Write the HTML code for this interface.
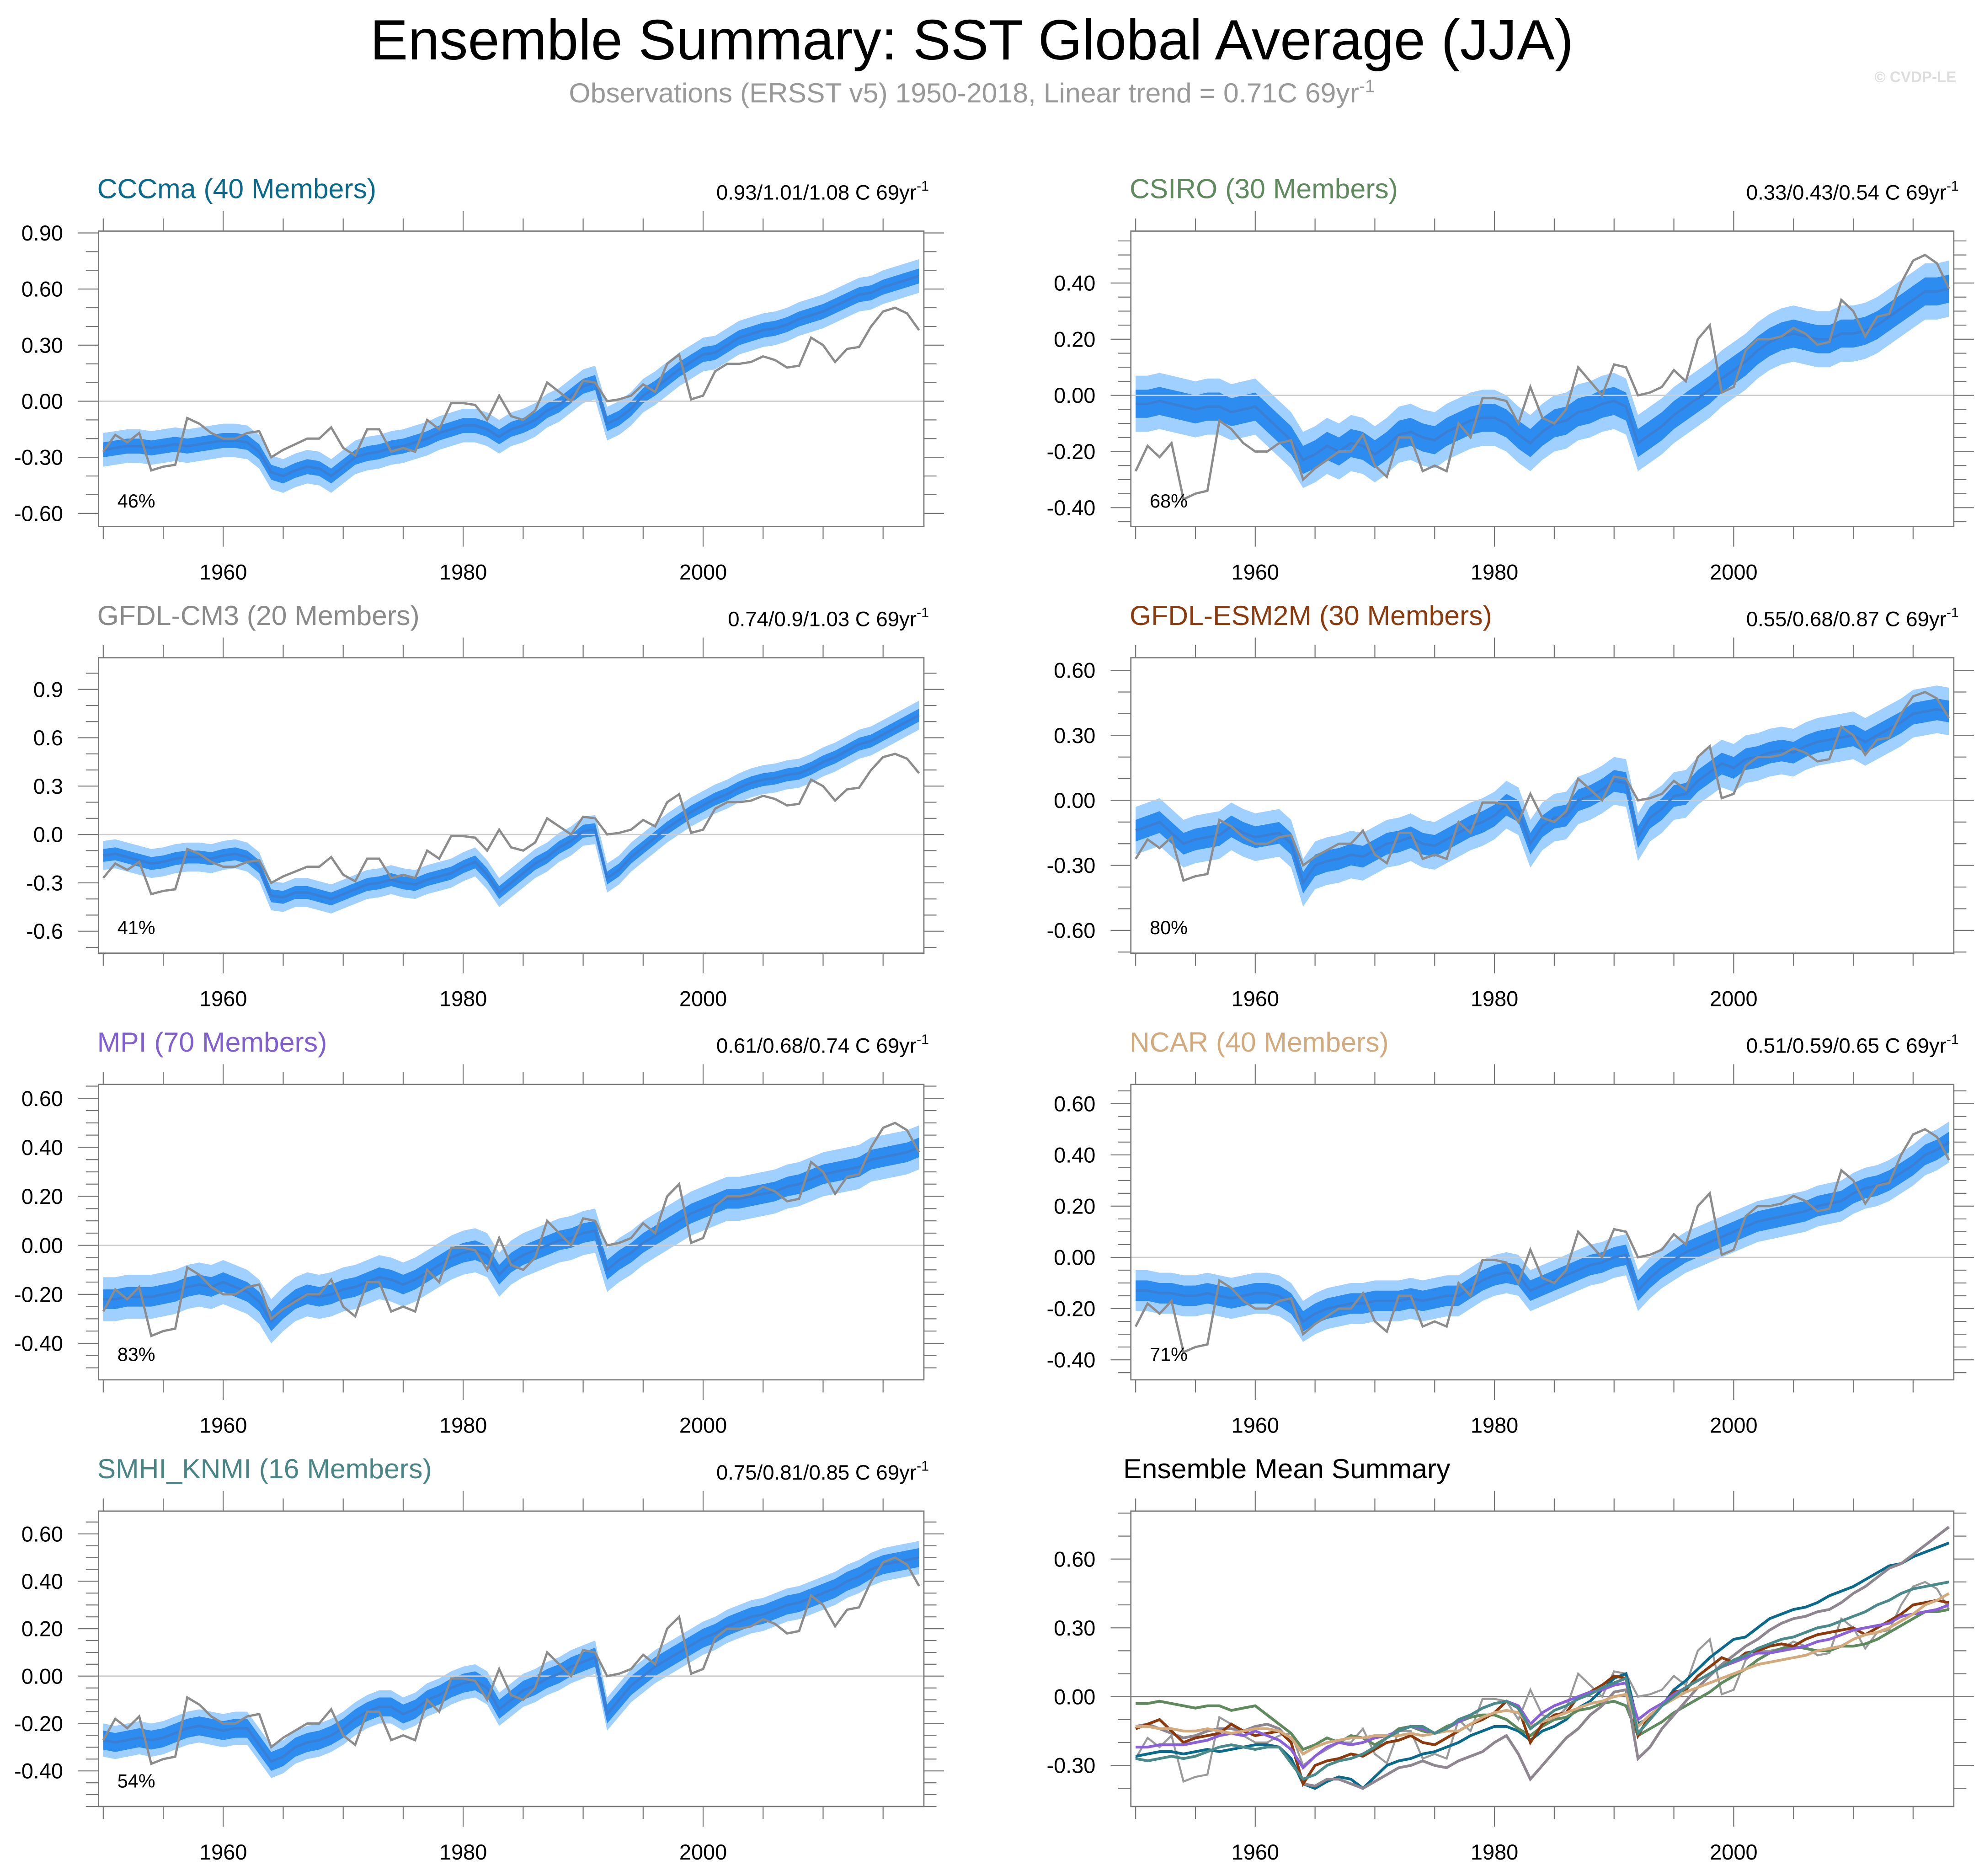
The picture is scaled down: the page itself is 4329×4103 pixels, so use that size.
<!DOCTYPE html>
<html><head><meta charset="utf-8">
<style>
html,body{margin:0;padding:0;background:#fff;}
svg{display:block;font-family:"Liberation Sans",sans-serif;}
</style></head>
<body>
<svg id="chart" width="4329" height="4103" viewBox="0 0 1568 1486" xmlns="http://www.w3.org/2000/svg">
<rect width="1568" height="1486" fill="#fff"/>
<text x="770" y="47" font-size="45" text-anchor="middle" fill="#000">Ensemble Summary: SST Global Average (JJA)</text>
<text x="770" y="81" font-size="22" text-anchor="middle" fill="#999">Observations (ERSST v5) 1950-2018, Linear trend = 0.71C 69yr<tspan dy="-8" font-size="14">-1</tspan></text>
<text x="1550" y="65" font-size="12" text-anchor="end" fill="#ddd" font-weight="bold">© CVDP-LE</text>
<g id="panels"></g>
</svg>
<script>
const years = Array.from({length:69},(_,i)=>1950+i);
const obs = [-0.27,-0.18,-0.22,-0.17,-0.37,-0.35,-0.34,-0.09,-0.12,-0.17,-0.20,-0.20,-0.17,-0.16,
 -0.30,-0.26,-0.23,-0.20,-0.20,-0.14,-0.25,-0.29,-0.15,-0.15,-0.27,-0.25,-0.27,-0.10,-0.15,-0.01,-0.01,-0.02,-0.10,
 0.03,-0.08,-0.10,-0.05,0.10,0.05,0.00,0.11,0.10,
 0.00,0.01,0.03,0.09,0.05,0.20,0.25,0.01,0.03,
 0.16,0.20,0.20,0.21,0.24,0.22,0.18,0.19,0.34,
 0.30,0.21,0.28,0.29,0.40,0.48,0.50,0.47,0.38];
const cccma = [-0.26,-0.25,-0.24,-0.24,-0.25,-0.24,-0.23,-0.24,-0.23,-0.22,-0.21,-0.21,-0.22,-0.27,
 -0.38,-0.40,-0.37,-0.35,-0.36,-0.40,-0.35,-0.30,-0.28,-0.27,-0.25,-0.24,-0.22,-0.20,-0.17,-0.15,-0.13,-0.13,-0.15,
 -0.19,-0.15,-0.13,-0.10,-0.05,-0.02,0.03,0.08,0.10,
 -0.12,-0.09,-0.04,0.03,0.07,0.12,0.17,0.21,0.25,
 0.26,0.30,0.34,0.36,0.38,0.39,0.41,0.44,0.46,
 0.48,0.51,0.54,0.57,0.58,0.61,0.63,0.65,0.67];
const csiro = [-0.03,-0.03,-0.02,-0.03,-0.04,-0.05,-0.04,-0.04,-0.06,-0.05,-0.04,-0.08,-0.12,-0.16,
 -0.23,-0.21,-0.18,-0.20,-0.17,-0.18,-0.21,-0.18,-0.14,-0.13,-0.15,-0.16,-0.13,-0.11,-0.09,-0.08,-0.08,-0.10,-0.14,
 -0.17,-0.13,-0.10,-0.09,-0.06,-0.05,-0.03,-0.02,-0.04,
 -0.17,-0.14,-0.11,-0.07,-0.04,-0.01,0.02,0.06,0.09,
 0.12,0.16,0.19,0.21,0.22,0.21,0.20,0.20,0.22,
 0.22,0.23,0.25,0.28,0.31,0.34,0.37,0.37,0.38];
const gfdlcm3 = [-0.13,-0.12,-0.14,-0.16,-0.18,-0.17,-0.15,-0.14,-0.14,-0.15,-0.13,-0.12,-0.14,-0.20,
 -0.38,-0.39,-0.36,-0.36,-0.38,-0.40,-0.37,-0.34,-0.31,-0.30,-0.28,-0.30,-0.31,-0.28,-0.26,-0.24,-0.20,-0.17,-0.25,
 -0.36,-0.30,-0.24,-0.18,-0.14,-0.08,-0.04,0.02,0.03,
 -0.27,-0.22,-0.14,-0.08,-0.02,0.04,0.09,0.14,0.18,
 0.22,0.25,0.29,0.32,0.34,0.35,0.37,0.38,0.41,
 0.45,0.48,0.52,0.56,0.58,0.62,0.66,0.70,0.74];
const gfdlesm = [-0.14,-0.12,-0.10,-0.15,-0.20,-0.18,-0.17,-0.16,-0.12,-0.15,-0.17,-0.16,-0.15,-0.20,
 -0.38,-0.30,-0.28,-0.27,-0.25,-0.26,-0.23,-0.20,-0.19,-0.17,-0.20,-0.21,-0.18,-0.15,-0.12,-0.10,-0.07,-0.02,-0.05,
 -0.20,-0.12,-0.08,-0.07,0.00,0.02,0.05,0.09,0.08,
 -0.17,-0.08,-0.04,0.02,0.03,0.09,0.13,0.17,0.15,
 0.19,0.20,0.22,0.23,0.22,0.25,0.27,0.28,0.29,
 0.30,0.27,0.30,0.33,0.36,0.40,0.41,0.42,0.41];
const mpi = [-0.22,-0.22,-0.21,-0.21,-0.21,-0.20,-0.19,-0.17,-0.16,-0.17,-0.15,-0.17,-0.19,-0.23,
 -0.31,-0.26,-0.22,-0.20,-0.21,-0.20,-0.18,-0.17,-0.15,-0.13,-0.14,-0.16,-0.14,-0.11,-0.08,-0.05,-0.03,-0.02,-0.04,
 -0.12,-0.07,-0.04,-0.02,0.00,0.02,0.03,0.05,0.06,
 -0.10,-0.06,-0.03,0.01,0.04,0.07,0.10,0.13,0.15,
 0.17,0.19,0.19,0.20,0.21,0.22,0.24,0.25,0.27,
 0.29,0.30,0.31,0.32,0.35,0.36,0.37,0.38,0.40];
const ncar = [-0.13,-0.13,-0.14,-0.14,-0.15,-0.15,-0.14,-0.15,-0.16,-0.15,-0.14,-0.14,-0.15,-0.18,
 -0.25,-0.22,-0.20,-0.19,-0.18,-0.18,-0.17,-0.17,-0.17,-0.16,-0.17,-0.16,-0.15,-0.15,-0.12,-0.09,-0.07,-0.06,-0.07,
 -0.13,-0.11,-0.09,-0.07,-0.05,-0.03,-0.02,0.00,0.01,
 -0.13,-0.08,-0.04,-0.01,0.02,0.04,0.06,0.08,0.10,
 0.12,0.14,0.15,0.16,0.17,0.18,0.20,0.21,0.22,
 0.25,0.27,0.28,0.30,0.33,0.36,0.40,0.42,0.45];
const smhi = [-0.27,-0.28,-0.27,-0.26,-0.27,-0.26,-0.24,-0.22,-0.21,-0.22,-0.23,-0.22,-0.22,-0.29,
 -0.36,-0.34,-0.30,-0.28,-0.27,-0.25,-0.22,-0.18,-0.15,-0.13,-0.13,-0.16,-0.14,-0.10,-0.08,-0.05,-0.03,-0.02,-0.05,
 -0.14,-0.10,-0.06,-0.04,-0.01,0.01,0.04,0.06,0.08,
 -0.16,-0.10,-0.04,0.00,0.04,0.07,0.10,0.13,0.16,
 0.18,0.21,0.23,0.25,0.26,0.28,0.30,0.31,0.33,
 0.35,0.37,0.40,0.42,0.45,0.47,0.48,0.49,0.50];
const innerSpread = [0.04,0.05,0.04,0.05,0.04,0.04,0.04];
const outerSpread = [0.09,0.10,0.09,0.11,0.09,0.08,0.07];
const xTicks = [1960,1980,2000];

const NS="http://www.w3.org/2000/svg";
const root=document.getElementById('panels');
function mk(tag,attrs,parent){const e=document.createElementNS(NS,tag);for(const k in attrs)e.setAttribute(k,attrs[k]);(parent||root).appendChild(e);return e;}

const panels=[
 {name:'cccma',title:'CCCma (40 Members)',color:'#0b6a8c',trend:'0.93/1.01/1.08 C 69yr',pct:'46%',data:cccma,col:0,row:0,ymin:-0.67,ymax:0.91,ticks:[-0.6,-0.3,0,0.3,0.6,0.9],dec:2,minor:0.1},
 {name:'csiro',title:'CSIRO (30 Members)',color:'#5e8a5e',trend:'0.33/0.43/0.54 C 69yr',pct:'68%',data:csiro,col:1,row:0,ymin:-0.467,ymax:0.585,ticks:[-0.4,-0.2,0,0.2,0.4],dec:2,minor:0.05},
 {name:'gfdl-cm3',title:'GFDL-CM3 (20 Members)',color:'#8a8a8a',trend:'0.74/0.9/1.03 C 69yr',pct:'41%',data:gfdlcm3,col:0,row:1,ymin:-0.736,ymax:1.096,ticks:[-0.6,-0.3,0,0.3,0.6,0.9],dec:1,minor:0.1},
 {name:'gfdl-esm2m',title:'GFDL-ESM2M (30 Members)',color:'#8b3a0e',trend:'0.55/0.68/0.87 C 69yr',pct:'80%',data:gfdlesm,col:1,row:1,ymin:-0.705,ymax:0.658,ticks:[-0.6,-0.3,0,0.3,0.6],dec:2,minor:0.1},
 {name:'mpi',title:'MPI (70 Members)',color:'#8060d0',trend:'0.61/0.68/0.74 C 69yr',pct:'83%',data:mpi,col:0,row:2,ymin:-0.549,ymax:0.657,ticks:[-0.4,-0.2,0,0.2,0.4,0.6],dec:2,minor:0.05},
 {name:'ncar',title:'NCAR (40 Members)',color:'#d2aa7d',trend:'0.51/0.59/0.65 C 69yr',pct:'71%',data:ncar,col:1,row:2,ymin:-0.478,ymax:0.675,ticks:[-0.4,-0.2,0,0.2,0.4,0.6],dec:2,minor:0.05},
 {name:'smhi-knmi',title:'SMHI_KNMI (16 Members)',color:'#4a8585',trend:'0.75/0.81/0.85 C 69yr',pct:'54%',data:smhi,col:0,row:3,ymin:-0.55,ymax:0.696,ticks:[-0.4,-0.2,0,0.2,0.4,0.6],dec:2,minor:0.05}
];
const summaryColors=['#0b6a8c','#5e8a5e','#8f878f','#8b3a0e','#8a60d8','#d2aa7d','#4a8a8a'];

function frame(p){
 const x0=p.col?896:78, x1=p.col?1548:732, y0=[183,521,859,1197][p.row], y1=y0+234;
 const xs=y=>x0+(y-1949.6)/(2018.4-1949.6)*(x1-x0);
 const ys=v=>y1-(v-p.ymin)/(p.ymax-p.ymin)*(y1-y0);
 return {x0,x1,y0,y1,xs,ys};
}
function axes(g,p,f,zeroColor){
 mk('line',{x1:f.x0,x2:f.x1,y1:f.ys(0),y2:f.ys(0),stroke:zeroColor,'stroke-width':1},g);
 mk('rect',{x:f.x0,y:f.y0,width:f.x1-f.x0,height:f.y1-f.y0,fill:'none',stroke:'#777','stroke-width':1},g);
 for(let yr=1950;yr<=2015;yr+=5){
  const maj=xTicks.includes(yr), L=maj?16:10, x=f.xs(yr);
  mk('line',{x1:x,x2:x,y1:f.y1,y2:f.y1+L,stroke:'#777','stroke-width':0.8},g);
  mk('line',{x1:x,x2:x,y1:f.y0,y2:f.y0-L,stroke:'#777','stroke-width':0.8},g);
 }
 xTicks.forEach(yr=>{const t=mk('text',{x:f.xs(yr),y:f.y1+42,'font-size':17,'text-anchor':'middle'},g);t.textContent=yr;});
 const lo=Math.ceil(p.ymin/p.minor-1e-6),hi=Math.floor(p.ymax/p.minor+1e-6);
 for(let k=lo;k<=hi;k++){
  const v=k*p.minor, maj=p.ticks.some(t=>Math.abs(t-v)<1e-6), L=maj?16:10, y=f.ys(v);
  mk('line',{x1:f.x0-L,x2:f.x0,y1:y,y2:y,stroke:'#777','stroke-width':0.8},g);
  mk('line',{x1:f.x1,x2:f.x1+L,y1:y,y2:y,stroke:'#777','stroke-width':0.8},g);
 }
 p.ticks.forEach(v=>{const t=mk('text',{x:f.x0-28,y:f.ys(v)+6,'font-size':17,'text-anchor':'end'},g);t.textContent=v.toFixed(p.dec);});
}
function linePath(arr,f){return arr.map((v,i)=>(i?'L':'M')+f.xs(years[i]).toFixed(2)+','+f.ys(v).toFixed(2)).join('');}
function bandPath(arr,w,f){
 let d=arr.map((v,i)=>(i?'L':'M')+f.xs(years[i]).toFixed(2)+','+f.ys(v+w).toFixed(2)).join('');
 for(let i=arr.length-1;i>=0;i--)d+='L'+f.xs(years[i]).toFixed(2)+','+f.ys(arr[i]-w).toFixed(2);
 return d+'Z';
}
panels.forEach((p,pi)=>{
 const f=frame(p);
 const g=mk('g',{});
 
 
 const o=mk('path',{d:bandPath(p.data,outerSpread[pi],f),fill:'#9fd0ff'},g);
 
 const inn=mk('path',{d:bandPath(p.data,innerSpread[pi],f),fill:'#2c8cf0'},g);
 
 axes(g,p,f,'#ccc');
 const m=mk('path',{d:linePath(p.data,f),fill:'none',stroke:'#3b7fd4','stroke-width':2},g);
 
 const ob=mk('path',{d:linePath(obs,f),fill:'none',stroke:'#8c8c8c','stroke-width':1.8},g);
 
 const t=mk('text',{x:f.x0-1,y:f.y0-26,'font-size':22,fill:p.color},g);
 t.textContent=p.title;
 const tr=mk('text',{x:f.x1+4,y:f.y0-25,'font-size':16.5,'text-anchor':'end'},g);
 
 tr.textContent=p.trend;
 const sup=mk('tspan',{dy:-7,'font-size':11},tr);sup.textContent='-1';
 const pc=mk('text',{x:f.x0+15,y:f.y1-15,'font-size':15},g);
 pc.textContent=p.pct;
});
// summary panel
(function(){
 const p={col:1,row:3,ymin:-0.479,ymax:0.809,ticks:[-0.3,0,0.3,0.6],dec:2,minor:0.1};
 const f=frame(p);
 const g=mk('g',{});
 
 
 axes(g,p,f,'#777');
 const ob=mk('path',{d:linePath(obs,f),fill:'none',stroke:'#9a9a9a','stroke-width':1.6},g);
 
 panels.forEach((q,i)=>{
  const l=mk('path',{d:linePath(q.data,f),fill:'none',stroke:summaryColors[i],'stroke-width':2.2},g);
  
 });
 const t=mk('text',{x:f.x0-6,y:f.y0-26,'font-size':22,fill:'#000'},g);
 t.textContent='Ensemble Mean Summary';
})();
</script>
</body></html>
